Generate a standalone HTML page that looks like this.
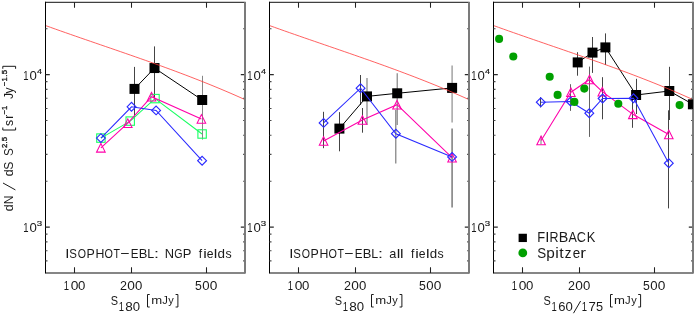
<!DOCTYPE html>
<html><head><meta charset="utf-8"><title>Source counts</title>
<style>
html,body{margin:0;padding:0;background:#fff;}
body{width:700px;height:314px;overflow:hidden;}
svg{display:block;will-change:transform;}
text{font-family:"Liberation Sans",sans-serif;fill:#1a1a1a;font-kerning:none;white-space:pre;}
</style></head><body>
<svg width="700" height="314" viewBox="0 0 700 314">
<rect width="700" height="314" fill="#fff"/>
<path d="M134.50 66.90V118.70" stroke="#3a3a3a" stroke-width="0.95" fill="none"/>
<path d="M154.50 46.40V98.00" stroke="#3a3a3a" stroke-width="0.95" fill="none"/>
<path d="M202.50 75.80V139.60" stroke="#808080" stroke-width="0.95" fill="none"/>
<path d="M100.90 138.10 L130.20 121.10 L155.00 98.60 L202.10 134.00" stroke="#18ff62" stroke-width="1.05" fill="none"/>
<rect x="96.70" y="133.90" width="8.4" height="8.4" fill="none" stroke="#18ff62" stroke-width="1.1"/>
<rect x="126.00" y="116.90" width="8.4" height="8.4" fill="none" stroke="#18ff62" stroke-width="1.1"/>
<rect x="150.80" y="94.40" width="8.4" height="8.4" fill="none" stroke="#18ff62" stroke-width="1.1"/>
<rect x="197.90" y="129.80" width="8.4" height="8.4" fill="none" stroke="#18ff62" stroke-width="1.1"/>
<path d="M100.90 147.80 L127.80 123.10 L151.50 96.70 L201.40 118.90" stroke="#ff00aa" stroke-width="1.05" fill="none"/>
<path d="M96.60 152.10L100.90 143.50L105.20 152.10Z" fill="none" stroke="#ff00aa" stroke-width="1.05"/>
<path d="M123.50 127.40L127.80 118.80L132.10 127.40Z" fill="none" stroke="#ff00aa" stroke-width="1.05"/>
<path d="M147.20 101.00L151.50 92.40L155.80 101.00Z" fill="none" stroke="#ff00aa" stroke-width="1.05"/>
<path d="M197.10 123.20L201.40 114.60L205.70 123.20Z" fill="none" stroke="#ff00aa" stroke-width="1.05"/>
<path d="M100.90 138.10 L131.50 106.80 L156.10 110.40 L202.10 160.70" stroke="#2a2aff" stroke-width="1.05" fill="none"/>
<path d="M96.50 138.10L100.90 133.70L105.30 138.10L100.90 142.50Z" fill="none" stroke="#2a2aff" stroke-width="1.15"/>
<path d="M127.10 106.80L131.50 102.40L135.90 106.80L131.50 111.20Z" fill="none" stroke="#2a2aff" stroke-width="1.15"/>
<path d="M151.70 110.40L156.10 106.00L160.50 110.40L156.10 114.80Z" fill="none" stroke="#2a2aff" stroke-width="1.15"/>
<path d="M197.70 160.70L202.10 156.30L206.50 160.70L202.10 165.10Z" fill="none" stroke="#2a2aff" stroke-width="1.15"/>
<path d="M134.50 88.90 L154.50 68.05 L202.20 100.00" stroke="#000" stroke-width="1.0" fill="none"/>
<rect x="129.50" y="83.90" width="10" height="10" fill="#000"/>
<rect x="149.50" y="63.05" width="10" height="10" fill="#000"/>
<rect x="197.20" y="95.00" width="10" height="10" fill="#000"/>
<path d="M45.50 25.55 L50.49 27.34 L55.48 29.12 L60.46 30.88 L65.45 32.64 L70.44 34.38 L75.42 36.12 L80.41 37.85 L85.40 39.57 L90.39 41.29 L95.38 43.01 L100.36 44.72 L105.35 46.44 L110.34 48.15 L115.33 49.87 L120.31 51.59 L125.30 53.32 L130.29 55.05 L135.28 56.79 L140.26 58.54 L145.25 60.29 L150.24 62.06 L155.22 63.85 L160.21 65.64 L165.20 67.46 L170.19 69.29 L175.18 71.13 L180.16 73.00 L185.15 74.88 L190.14 76.79 L195.12 78.73 L200.11 80.68 L205.10 82.66 L210.09 84.67 L215.07 86.71 L220.06 88.78 L225.05 90.88 L230.04 93.01 L235.03 95.18 L240.01 97.38 L245.00 99.62" stroke="#ff3a3a" stroke-width="0.8" fill="none"/>
<path d="M339.50 112.10V151.30" stroke="#3a3a3a" stroke-width="0.95" fill="none"/>
<path d="M367.00 77.90V125.00" stroke="#777" stroke-width="1.1" fill="none"/>
<path d="M397.20 73.20V125.00" stroke="#777" stroke-width="1.1" fill="none"/>
<path d="M452.10 65.50V122.60" stroke="#999" stroke-width="1.35" fill="none"/>
<path d="M323.50 111.80V148.20" stroke="#3a3a3a" stroke-width="0.95" fill="none"/>
<path d="M360.50 75.00V105.00" stroke="#3a3a3a" stroke-width="0.95" fill="none"/>
<path d="M395.80 110.00V163.40" stroke="#707070" stroke-width="1.1" fill="none"/>
<path d="M452.10 128.40V207.50" stroke="#8a8a8a" stroke-width="1.7" fill="none"/>
<path d="M362.50 108.00V132.70" stroke="#3a3a3a" stroke-width="0.95" fill="none"/>
<path d="M339.40 128.60 L367.00 96.40 L397.20 93.30 L452.10 87.90" stroke="#000" stroke-width="1.0" fill="none"/>
<rect x="334.40" y="123.60" width="10" height="10" fill="#000"/>
<rect x="362.00" y="91.40" width="10" height="10" fill="#000"/>
<rect x="392.20" y="88.30" width="10" height="10" fill="#000"/>
<rect x="447.10" y="82.90" width="10" height="10" fill="#000"/>
<path d="M323.60 141.00 L362.40 120.00 L397.00 104.70 L452.10 157.70" stroke="#ff00aa" stroke-width="1.05" fill="none"/>
<path d="M319.30 145.30L323.60 136.70L327.90 145.30Z" fill="none" stroke="#ff00aa" stroke-width="1.05"/>
<path d="M358.10 124.30L362.40 115.70L366.70 124.30Z" fill="none" stroke="#ff00aa" stroke-width="1.05"/>
<path d="M392.70 109.00L397.00 100.40L401.30 109.00Z" fill="none" stroke="#ff00aa" stroke-width="1.05"/>
<path d="M447.80 162.00L452.10 153.40L456.40 162.00Z" fill="none" stroke="#ff00aa" stroke-width="1.05"/>
<path d="M323.60 122.90 L360.60 88.20 L395.90 133.70 L452.10 156.90" stroke="#2a2aff" stroke-width="1.05" fill="none"/>
<path d="M319.20 122.90L323.60 118.50L328.00 122.90L323.60 127.30Z" fill="none" stroke="#2a2aff" stroke-width="1.15"/>
<path d="M356.20 88.20L360.60 83.80L365.00 88.20L360.60 92.60Z" fill="none" stroke="#2a2aff" stroke-width="1.15"/>
<path d="M391.50 133.70L395.90 129.30L400.30 133.70L395.90 138.10Z" fill="none" stroke="#2a2aff" stroke-width="1.15"/>
<path d="M447.70 156.90L452.10 152.50L456.50 156.90L452.10 161.30Z" fill="none" stroke="#2a2aff" stroke-width="1.15"/>
<path d="M269.50 25.55 L274.49 27.34 L279.48 29.12 L284.46 30.88 L289.45 32.64 L294.44 34.38 L299.43 36.12 L304.41 37.85 L309.40 39.57 L314.39 41.29 L319.38 43.01 L324.36 44.72 L329.35 46.44 L334.34 48.15 L339.32 49.87 L344.31 51.59 L349.30 53.32 L354.29 55.05 L359.27 56.79 L364.26 58.54 L369.25 60.29 L374.24 62.06 L379.23 63.85 L384.21 65.64 L389.20 67.46 L394.19 69.29 L399.18 71.13 L404.16 73.00 L409.15 74.88 L414.14 76.79 L419.12 78.73 L424.11 80.68 L429.10 82.66 L434.09 84.67 L439.07 86.71 L444.06 88.78 L449.05 90.88 L454.04 93.01 L459.02 95.18 L464.01 97.38 L469.00 99.62" stroke="#ff3a3a" stroke-width="0.8" fill="none"/>
<path d="M577.50 52.20V75.70" stroke="#3a3a3a" stroke-width="0.95" fill="none"/>
<path d="M592.50 37.00V72.90" stroke="#3a3a3a" stroke-width="0.95" fill="none"/>
<path d="M605.50 33.40V65.00" stroke="#3a3a3a" stroke-width="0.95" fill="none"/>
<path d="M636.50 78.80V114.00" stroke="#3a3a3a" stroke-width="0.95" fill="none"/>
<path d="M669.50 66.80V120.00" stroke="#3a3a3a" stroke-width="0.95" fill="none"/>
<path d="M540.50 97.20V107.40" stroke="#3a3a3a" stroke-width="0.95" fill="none"/>
<path d="M570.50 84.20V110.90" stroke="#5a5a5a" stroke-width="0.95" fill="none"/>
<path d="M589.50 66.60V136.90" stroke="#5a5a5a" stroke-width="0.95" fill="none"/>
<path d="M602.50 77.20V119.30" stroke="#3a3a3a" stroke-width="0.95" fill="none"/>
<path d="M632.50 95.00V127.80" stroke="#3a3a3a" stroke-width="0.95" fill="none"/>
<path d="M668.50 110.30V208.40" stroke="#3a3a3a" stroke-width="0.95" fill="none"/>
<path d="M541.00 135.80V144.20" stroke="#999" stroke-width="1.3" fill="none"/>
<clipPath id="c3"><rect x="493.5" y="2.2" width="199.9" height="270.75"/></clipPath>
<g clip-path="url(#c3)">
<path d="M577.70 62.40 L592.50 52.60 L605.40 47.40 L636.10 95.00 L669.30 91.00 L692.90 104.30" stroke="#000" stroke-width="1.0" fill="none"/>
<rect x="572.70" y="57.40" width="10" height="10" fill="#000"/>
<rect x="587.50" y="47.60" width="10" height="10" fill="#000"/>
<rect x="600.40" y="42.40" width="10" height="10" fill="#000"/>
<rect x="631.10" y="90.00" width="10" height="10" fill="#000"/>
<rect x="664.30" y="86.00" width="10" height="10" fill="#000"/>
<rect x="687.90" y="99.30" width="10" height="10" fill="#000"/>
</g>
<path d="M541.10 140.50 L570.90 92.20 L589.50 79.50 L602.30 91.70 L632.90 114.30 L668.80 134.50" stroke="#ff00aa" stroke-width="1.05" fill="none"/>
<path d="M536.80 144.80L541.10 136.20L545.40 144.80Z" fill="none" stroke="#ff00aa" stroke-width="1.05"/>
<path d="M566.60 96.50L570.90 87.90L575.20 96.50Z" fill="none" stroke="#ff00aa" stroke-width="1.05"/>
<path d="M585.20 83.80L589.50 75.20L593.80 83.80Z" fill="none" stroke="#ff00aa" stroke-width="1.05"/>
<path d="M598.00 96.00L602.30 87.40L606.60 96.00Z" fill="none" stroke="#ff00aa" stroke-width="1.05"/>
<path d="M628.60 118.60L632.90 110.00L637.20 118.60Z" fill="none" stroke="#ff00aa" stroke-width="1.05"/>
<path d="M664.50 138.80L668.80 130.20L673.10 138.80Z" fill="none" stroke="#ff00aa" stroke-width="1.05"/>
<path d="M540.80 102.20 L570.60 101.50 L589.30 113.20 L602.60 98.50 L633.50 98.30 L668.80 163.20" stroke="#2a2aff" stroke-width="1.05" fill="none"/>
<path d="M536.40 102.20L540.80 97.80L545.20 102.20L540.80 106.60Z" fill="none" stroke="#2a2aff" stroke-width="1.15"/>
<path d="M566.20 101.50L570.60 97.10L575.00 101.50L570.60 105.90Z" fill="none" stroke="#2a2aff" stroke-width="1.15"/>
<path d="M584.90 113.20L589.30 108.80L593.70 113.20L589.30 117.60Z" fill="none" stroke="#2a2aff" stroke-width="1.15"/>
<path d="M598.20 98.50L602.60 94.10L607.00 98.50L602.60 102.90Z" fill="none" stroke="#2a2aff" stroke-width="1.15"/>
<path d="M629.10 98.30L633.50 93.90L637.90 98.30L633.50 102.70Z" fill="none" stroke="#2a2aff" stroke-width="1.15"/>
<path d="M664.40 163.20L668.80 158.80L673.20 163.20L668.80 167.60Z" fill="none" stroke="#2a2aff" stroke-width="1.15"/>
<circle cx="499.10" cy="38.90" r="4.05" fill="#00a000"/>
<circle cx="513.30" cy="56.50" r="4.05" fill="#00a000"/>
<circle cx="549.70" cy="76.80" r="4.05" fill="#00a000"/>
<circle cx="557.60" cy="94.90" r="4.05" fill="#00a000"/>
<circle cx="584.30" cy="88.60" r="4.05" fill="#00a000"/>
<circle cx="574.40" cy="101.90" r="4.05" fill="#00a000"/>
<circle cx="618.30" cy="103.80" r="4.05" fill="#00a000"/>
<circle cx="679.60" cy="105.10" r="4.05" fill="#00a000"/>
<path d="M493.50 25.55 L498.49 27.34 L503.48 29.12 L508.46 30.88 L513.45 32.64 L518.44 34.38 L523.42 36.12 L528.41 37.85 L533.40 39.57 L538.39 41.29 L543.38 43.01 L548.36 44.72 L553.35 46.44 L558.34 48.15 L563.33 49.87 L568.31 51.59 L573.30 53.32 L578.29 55.05 L583.27 56.79 L588.26 58.54 L593.25 60.29 L598.24 62.06 L603.23 63.85 L608.21 65.64 L613.20 67.46 L618.19 69.29 L623.17 71.13 L628.16 73.00 L633.15 74.88 L638.14 76.79 L643.12 78.73 L648.11 80.68 L653.10 82.66 L658.09 84.67 L663.08 86.71 L668.06 88.78 L673.05 90.88 L678.04 93.01 L683.02 95.18 L688.01 97.38 L693.00 99.62" stroke="#ff3a3a" stroke-width="0.8" fill="none"/>
<path d="M45.50 2.35H245.60" fill="none" stroke="#404040" stroke-width="1.2"/>
<path d="M45.50 273.05H245.50" fill="none" stroke="#868686" stroke-width="1.95"/>
<path d="M245.00 2.0V273.34999999999997" fill="none" stroke="#787878" stroke-width="1.95"/>
<path d="M45.50 1.7000000000000002V273.45" fill="none" stroke="#000" stroke-width="1.0"/>
<path d="M74.50 2.2v5.6M74.50 272.95v-5.6" stroke="#222" stroke-width="1.05" fill="none"/>
<path d="M131.50 2.2v5.6M131.50 272.95v-5.6" stroke="#222" stroke-width="1.05" fill="none"/>
<path d="M206.50 2.2v5.6M206.50 272.95v-5.6" stroke="#222" stroke-width="1.05" fill="none"/>
<path d="M45.50 260.92h2.0M244.10 260.92h-1.0" stroke="#4a4a4a" stroke-width="1.1" fill="none"/>
<path d="M45.50 250.71h2.0M244.10 250.71h-1.0" stroke="#4a4a4a" stroke-width="1.1" fill="none"/>
<path d="M45.50 241.87h2.0M244.10 241.87h-1.0" stroke="#4a4a4a" stroke-width="1.1" fill="none"/>
<path d="M45.50 234.08h2.0M244.10 234.08h-1.0" stroke="#4a4a4a" stroke-width="1.1" fill="none"/>
<path d="M45.50 227.10h4.3M244.10 227.10h-3.3" stroke="#2a2a2a" stroke-width="1.1" fill="none"/>
<path d="M45.50 181.21h2.0M244.10 181.21h-1.0" stroke="#4a4a4a" stroke-width="1.1" fill="none"/>
<path d="M45.50 154.36h2.0M244.10 154.36h-1.0" stroke="#4a4a4a" stroke-width="1.1" fill="none"/>
<path d="M45.50 135.32h2.0M244.10 135.32h-1.0" stroke="#4a4a4a" stroke-width="1.1" fill="none"/>
<path d="M45.50 120.54h2.0M244.10 120.54h-1.0" stroke="#4a4a4a" stroke-width="1.1" fill="none"/>
<path d="M45.50 108.47h2.0M244.10 108.47h-1.0" stroke="#4a4a4a" stroke-width="1.1" fill="none"/>
<path d="M45.50 98.26h2.0M244.10 98.26h-1.0" stroke="#4a4a4a" stroke-width="1.1" fill="none"/>
<path d="M45.50 89.42h2.0M244.10 89.42h-1.0" stroke="#4a4a4a" stroke-width="1.1" fill="none"/>
<path d="M45.50 81.63h2.0M244.10 81.63h-1.0" stroke="#4a4a4a" stroke-width="1.1" fill="none"/>
<path d="M45.50 74.65h4.3M244.10 74.65h-3.3" stroke="#2a2a2a" stroke-width="1.1" fill="none"/>
<path d="M45.50 28.76h2.0M244.10 28.76h-1.0" stroke="#4a4a4a" stroke-width="1.1" fill="none"/>
<path d="M269.50 2.35H469.60" fill="none" stroke="#404040" stroke-width="1.2"/>
<path d="M269.50 273.05H469.50" fill="none" stroke="#868686" stroke-width="1.95"/>
<path d="M469.00 2.0V273.34999999999997" fill="none" stroke="#787878" stroke-width="1.95"/>
<path d="M269.50 1.7000000000000002V273.45" fill="none" stroke="#000" stroke-width="1.0"/>
<path d="M298.50 2.2v5.6M298.50 272.95v-5.6" stroke="#222" stroke-width="1.05" fill="none"/>
<path d="M355.50 2.2v5.6M355.50 272.95v-5.6" stroke="#222" stroke-width="1.05" fill="none"/>
<path d="M430.50 2.2v5.6M430.50 272.95v-5.6" stroke="#222" stroke-width="1.05" fill="none"/>
<path d="M269.50 260.92h2.0M468.10 260.92h-1.0" stroke="#4a4a4a" stroke-width="1.1" fill="none"/>
<path d="M269.50 250.71h2.0M468.10 250.71h-1.0" stroke="#4a4a4a" stroke-width="1.1" fill="none"/>
<path d="M269.50 241.87h2.0M468.10 241.87h-1.0" stroke="#4a4a4a" stroke-width="1.1" fill="none"/>
<path d="M269.50 234.08h2.0M468.10 234.08h-1.0" stroke="#4a4a4a" stroke-width="1.1" fill="none"/>
<path d="M269.50 227.10h4.3M468.10 227.10h-3.3" stroke="#2a2a2a" stroke-width="1.1" fill="none"/>
<path d="M269.50 181.21h2.0M468.10 181.21h-1.0" stroke="#4a4a4a" stroke-width="1.1" fill="none"/>
<path d="M269.50 154.36h2.0M468.10 154.36h-1.0" stroke="#4a4a4a" stroke-width="1.1" fill="none"/>
<path d="M269.50 135.32h2.0M468.10 135.32h-1.0" stroke="#4a4a4a" stroke-width="1.1" fill="none"/>
<path d="M269.50 120.54h2.0M468.10 120.54h-1.0" stroke="#4a4a4a" stroke-width="1.1" fill="none"/>
<path d="M269.50 108.47h2.0M468.10 108.47h-1.0" stroke="#4a4a4a" stroke-width="1.1" fill="none"/>
<path d="M269.50 98.26h2.0M468.10 98.26h-1.0" stroke="#4a4a4a" stroke-width="1.1" fill="none"/>
<path d="M269.50 89.42h2.0M468.10 89.42h-1.0" stroke="#4a4a4a" stroke-width="1.1" fill="none"/>
<path d="M269.50 81.63h2.0M468.10 81.63h-1.0" stroke="#4a4a4a" stroke-width="1.1" fill="none"/>
<path d="M269.50 74.65h4.3M468.10 74.65h-3.3" stroke="#2a2a2a" stroke-width="1.1" fill="none"/>
<path d="M269.50 28.76h2.0M468.10 28.76h-1.0" stroke="#4a4a4a" stroke-width="1.1" fill="none"/>
<path d="M493.50 2.35H693.60" fill="none" stroke="#404040" stroke-width="1.2"/>
<path d="M493.50 273.05H693.50" fill="none" stroke="#868686" stroke-width="1.95"/>
<path d="M693.00 2.0V273.34999999999997" fill="none" stroke="#787878" stroke-width="1.95"/>
<path d="M493.50 1.7000000000000002V273.45" fill="none" stroke="#000" stroke-width="1.0"/>
<path d="M522.50 2.2v5.6M522.50 272.95v-5.6" stroke="#222" stroke-width="1.05" fill="none"/>
<path d="M579.50 2.2v5.6M579.50 272.95v-5.6" stroke="#222" stroke-width="1.05" fill="none"/>
<path d="M654.50 2.2v5.6M654.50 272.95v-5.6" stroke="#222" stroke-width="1.05" fill="none"/>
<path d="M493.50 260.92h2.0M692.10 260.92h-1.0" stroke="#4a4a4a" stroke-width="1.1" fill="none"/>
<path d="M493.50 250.71h2.0M692.10 250.71h-1.0" stroke="#4a4a4a" stroke-width="1.1" fill="none"/>
<path d="M493.50 241.87h2.0M692.10 241.87h-1.0" stroke="#4a4a4a" stroke-width="1.1" fill="none"/>
<path d="M493.50 234.08h2.0M692.10 234.08h-1.0" stroke="#4a4a4a" stroke-width="1.1" fill="none"/>
<path d="M493.50 227.10h4.3M692.10 227.10h-3.3" stroke="#2a2a2a" stroke-width="1.1" fill="none"/>
<path d="M493.50 181.21h2.0M692.10 181.21h-1.0" stroke="#4a4a4a" stroke-width="1.1" fill="none"/>
<path d="M493.50 154.36h2.0M692.10 154.36h-1.0" stroke="#4a4a4a" stroke-width="1.1" fill="none"/>
<path d="M493.50 135.32h2.0M692.10 135.32h-1.0" stroke="#4a4a4a" stroke-width="1.1" fill="none"/>
<path d="M493.50 120.54h2.0M692.10 120.54h-1.0" stroke="#4a4a4a" stroke-width="1.1" fill="none"/>
<path d="M493.50 108.47h2.0M692.10 108.47h-1.0" stroke="#4a4a4a" stroke-width="1.1" fill="none"/>
<path d="M493.50 98.26h2.0M692.10 98.26h-1.0" stroke="#4a4a4a" stroke-width="1.1" fill="none"/>
<path d="M493.50 89.42h2.0M692.10 89.42h-1.0" stroke="#4a4a4a" stroke-width="1.1" fill="none"/>
<path d="M493.50 81.63h2.0M692.10 81.63h-1.0" stroke="#4a4a4a" stroke-width="1.1" fill="none"/>
<path d="M493.50 74.65h4.3M692.10 74.65h-3.3" stroke="#2a2a2a" stroke-width="1.1" fill="none"/>
<path d="M493.50 28.76h2.0M692.10 28.76h-1.0" stroke="#4a4a4a" stroke-width="1.1" fill="none"/>
<rect x="691.4" y="99.4" width="1.55" height="9.7" fill="#000"/>
<text transform="translate(64.35,290.00) scale(0.780,1)" x="-0.93" y="0" font-size="12.2">1</text>
<text transform="translate(71.20,290.00) scale(1.132,1)" x="-0.48" y="0" font-size="12.2">0</text>
<text transform="translate(78.60,290.00) scale(1.080,1)" x="-0.48" y="0" font-size="12.2">0</text>
<text transform="translate(120.70,290.00) scale(1.026,1)" x="-0.61" y="0" font-size="12.2">2</text>
<text transform="translate(127.90,290.00) scale(1.123,1)" x="-0.48" y="0" font-size="12.2">0</text>
<text transform="translate(135.60,290.00) scale(1.080,1)" x="-0.48" y="0" font-size="12.2">0</text>
<text transform="translate(195.60,290.00) scale(1.003,1)" x="-0.49" y="0" font-size="12.2">5</text>
<text transform="translate(202.80,290.00) scale(1.080,1)" x="-0.48" y="0" font-size="12.2">0</text>
<text transform="translate(210.25,290.00) scale(1.123,1)" x="-0.48" y="0" font-size="12.2">0</text>
<text transform="translate(23.85,79.55) scale(0.780,1)" x="-0.93" y="0" font-size="12.2">1</text>
<text transform="translate(29.90,79.55) scale(1.080,1)" x="-0.48" y="0" font-size="12.2">0</text>
<text transform="translate(37.10,73.65) scale(1.156,1)" x="-0.18" y="0" font-size="7.9" stroke="#1a1a1a" stroke-width="0.18">4</text>
<text transform="translate(23.85,232.00) scale(0.780,1)" x="-0.93" y="0" font-size="12.2">1</text>
<text transform="translate(29.90,232.00) scale(1.080,1)" x="-0.48" y="0" font-size="12.2">0</text>
<text transform="translate(37.10,226.10) scale(1.228,1)" x="-0.30" y="0" font-size="7.9" stroke="#1a1a1a" stroke-width="0.18">3</text>
<text transform="translate(288.35,290.00) scale(0.780,1)" x="-0.93" y="0" font-size="12.2">1</text>
<text transform="translate(295.20,290.00) scale(1.132,1)" x="-0.48" y="0" font-size="12.2">0</text>
<text transform="translate(302.60,290.00) scale(1.080,1)" x="-0.48" y="0" font-size="12.2">0</text>
<text transform="translate(344.70,290.00) scale(1.026,1)" x="-0.61" y="0" font-size="12.2">2</text>
<text transform="translate(351.90,290.00) scale(1.123,1)" x="-0.48" y="0" font-size="12.2">0</text>
<text transform="translate(359.60,290.00) scale(1.080,1)" x="-0.48" y="0" font-size="12.2">0</text>
<text transform="translate(419.60,290.00) scale(1.003,1)" x="-0.49" y="0" font-size="12.2">5</text>
<text transform="translate(426.80,290.00) scale(1.080,1)" x="-0.48" y="0" font-size="12.2">0</text>
<text transform="translate(434.25,290.00) scale(1.123,1)" x="-0.48" y="0" font-size="12.2">0</text>
<text transform="translate(247.85,79.55) scale(0.780,1)" x="-0.93" y="0" font-size="12.2">1</text>
<text transform="translate(253.90,79.55) scale(1.080,1)" x="-0.48" y="0" font-size="12.2">0</text>
<text transform="translate(261.10,73.65) scale(1.156,1)" x="-0.18" y="0" font-size="7.9" stroke="#1a1a1a" stroke-width="0.18">4</text>
<text transform="translate(247.85,232.00) scale(0.780,1)" x="-0.93" y="0" font-size="12.2">1</text>
<text transform="translate(253.90,232.00) scale(1.080,1)" x="-0.48" y="0" font-size="12.2">0</text>
<text transform="translate(261.10,226.10) scale(1.228,1)" x="-0.30" y="0" font-size="7.9" stroke="#1a1a1a" stroke-width="0.18">3</text>
<text transform="translate(512.35,290.00) scale(0.780,1)" x="-0.93" y="0" font-size="12.2">1</text>
<text transform="translate(519.20,290.00) scale(1.132,1)" x="-0.48" y="0" font-size="12.2">0</text>
<text transform="translate(526.60,290.00) scale(1.080,1)" x="-0.48" y="0" font-size="12.2">0</text>
<text transform="translate(568.70,290.00) scale(1.026,1)" x="-0.61" y="0" font-size="12.2">2</text>
<text transform="translate(575.90,290.00) scale(1.123,1)" x="-0.48" y="0" font-size="12.2">0</text>
<text transform="translate(583.60,290.00) scale(1.080,1)" x="-0.48" y="0" font-size="12.2">0</text>
<text transform="translate(643.60,290.00) scale(1.003,1)" x="-0.49" y="0" font-size="12.2">5</text>
<text transform="translate(650.80,290.00) scale(1.080,1)" x="-0.48" y="0" font-size="12.2">0</text>
<text transform="translate(658.25,290.00) scale(1.123,1)" x="-0.48" y="0" font-size="12.2">0</text>
<text transform="translate(471.85,79.55) scale(0.780,1)" x="-0.93" y="0" font-size="12.2">1</text>
<text transform="translate(477.90,79.55) scale(1.080,1)" x="-0.48" y="0" font-size="12.2">0</text>
<text transform="translate(485.10,73.65) scale(1.156,1)" x="-0.18" y="0" font-size="7.9" stroke="#1a1a1a" stroke-width="0.18">4</text>
<text transform="translate(471.85,232.00) scale(0.780,1)" x="-0.93" y="0" font-size="12.2">1</text>
<text transform="translate(477.90,232.00) scale(1.080,1)" x="-0.48" y="0" font-size="12.2">0</text>
<text transform="translate(485.10,226.10) scale(1.228,1)" x="-0.30" y="0" font-size="7.9" stroke="#1a1a1a" stroke-width="0.18">3</text>
<text transform="translate(66.60,257.90) scale(1.104,1)" x="-1.26" y="0" font-size="13.6">I</text>
<text transform="translate(69.70,257.90) scale(0.843,1)" x="-0.62" y="0" font-size="13.6">S</text>
<text transform="translate(78.28,257.90) scale(0.780,1)" x="-0.64" y="0" font-size="13.6">O</text>
<text transform="translate(87.50,257.90) scale(0.912,1)" x="-1.12" y="0" font-size="13.6">P</text>
<text transform="translate(96.40,257.90) scale(0.908,1)" x="-1.12" y="0" font-size="13.6">H</text>
<text transform="translate(104.90,257.90) scale(0.797,1)" x="-0.64" y="0" font-size="13.6">O</text>
<text transform="translate(113.63,257.90) scale(0.780,1)" x="-0.31" y="0" font-size="13.6">T</text>
<text transform="translate(121.20,257.90) scale(1.165,1)" x="-0.67" y="0" font-size="13.6">−</text>
<text transform="translate(131.80,257.90) scale(0.855,1)" x="-1.12" y="0" font-size="13.6">E</text>
<text transform="translate(139.70,257.90) scale(0.953,1)" x="-1.12" y="0" font-size="13.6">B</text>
<text transform="translate(148.30,257.90) scale(0.917,1)" x="-1.12" y="0" font-size="13.6">L</text>
<text transform="translate(155.50,257.90) scale(1.313,1)" x="-1.24" y="0" font-size="13.6">:</text>
<text transform="translate(290.60,257.90) scale(1.104,1)" x="-1.26" y="0" font-size="13.6">I</text>
<text transform="translate(293.70,257.90) scale(0.843,1)" x="-0.62" y="0" font-size="13.6">S</text>
<text transform="translate(302.28,257.90) scale(0.780,1)" x="-0.64" y="0" font-size="13.6">O</text>
<text transform="translate(311.50,257.90) scale(0.912,1)" x="-1.12" y="0" font-size="13.6">P</text>
<text transform="translate(320.40,257.90) scale(0.908,1)" x="-1.12" y="0" font-size="13.6">H</text>
<text transform="translate(328.90,257.90) scale(0.797,1)" x="-0.64" y="0" font-size="13.6">O</text>
<text transform="translate(337.63,257.90) scale(0.780,1)" x="-0.31" y="0" font-size="13.6">T</text>
<text transform="translate(345.20,257.90) scale(1.165,1)" x="-0.67" y="0" font-size="13.6">−</text>
<text transform="translate(355.80,257.90) scale(0.855,1)" x="-1.12" y="0" font-size="13.6">E</text>
<text transform="translate(363.70,257.90) scale(0.953,1)" x="-1.12" y="0" font-size="13.6">B</text>
<text transform="translate(372.30,257.90) scale(0.917,1)" x="-1.12" y="0" font-size="13.6">L</text>
<text transform="translate(379.50,257.90) scale(1.313,1)" x="-1.24" y="0" font-size="13.6">:</text>
<text transform="translate(165.80,257.90) scale(0.948,1)" x="-1.12" y="0" font-size="13.6">N</text>
<text transform="translate(174.84,257.90) scale(0.780,1)" x="-0.68" y="0" font-size="13.6">G</text>
<text transform="translate(183.70,257.90) scale(0.953,1)" x="-1.12" y="0" font-size="13.6">P</text>
<text transform="translate(198.90,257.90) scale(0.887,1)" x="-0.19" y="0" font-size="13.6">f</text>
<text transform="translate(204.20,257.90) scale(1.171,1)" x="-0.91" y="0" font-size="13.6">i</text>
<text transform="translate(207.20,257.90) scale(0.893,1)" x="-0.58" y="0" font-size="13.6">e</text>
<text transform="translate(214.90,257.90) scale(1.171,1)" x="-0.92" y="0" font-size="13.6">l</text>
<text transform="translate(218.05,257.90) scale(0.989,1)" x="-0.57" y="0" font-size="13.6">d</text>
<text transform="translate(225.80,257.90) scale(0.911,1)" x="-0.38" y="0" font-size="13.6">s</text>
<text transform="translate(389.75,257.90) scale(0.938,1)" x="-0.58" y="0" font-size="13.6">a</text>
<text transform="translate(397.90,257.90) scale(1.171,1)" x="-0.92" y="0" font-size="13.6">l</text>
<text transform="translate(401.20,257.90) scale(1.171,1)" x="-0.92" y="0" font-size="13.6">l</text>
<text transform="translate(411.10,257.90) scale(0.887,1)" x="-0.19" y="0" font-size="13.6">f</text>
<text transform="translate(416.20,257.90) scale(1.171,1)" x="-0.91" y="0" font-size="13.6">i</text>
<text transform="translate(419.30,257.90) scale(0.893,1)" x="-0.58" y="0" font-size="13.6">e</text>
<text transform="translate(427.00,257.90) scale(1.171,1)" x="-0.92" y="0" font-size="13.6">l</text>
<text transform="translate(430.20,257.90) scale(0.981,1)" x="-0.57" y="0" font-size="13.6">d</text>
<text transform="translate(437.90,257.90) scale(0.911,1)" x="-0.38" y="0" font-size="13.6">s</text>
<rect x="518.60" y="233.75" width="8.3" height="8.3" fill="#000"/>
<circle cx="522.80" cy="252.90" r="4.4" fill="#00a000"/>
<text transform="translate(538.40,242.00) scale(0.908,1)" x="-1.16" y="0" font-size="14.2">F</text>
<text transform="translate(546.60,242.00) scale(1.057,1)" x="-1.31" y="0" font-size="14.2">I</text>
<text transform="translate(550.50,242.00) scale(0.878,1)" x="-1.16" y="0" font-size="14.2">R</text>
<text transform="translate(559.90,242.00) scale(1.006,1)" x="-1.16" y="0" font-size="14.2">B</text>
<text transform="translate(568.60,242.00) scale(0.881,1)" x="-0.03" y="0" font-size="14.2">A</text>
<text transform="translate(577.50,242.00) scale(0.890,1)" x="-0.72" y="0" font-size="14.2">C</text>
<text transform="translate(587.80,242.00) scale(0.908,1)" x="-1.16" y="0" font-size="14.2">K</text>
<text transform="translate(537.90,257.80) scale(0.916,1)" x="-0.66" y="0" font-size="14.6">S</text>
<text transform="translate(547.30,257.80) scale(1.051,1)" x="-0.94" y="0" font-size="14.6">p</text>
<text transform="translate(556.20,257.80) scale(1.091,1)" x="-0.98" y="0" font-size="14.6">i</text>
<text transform="translate(559.60,257.80) scale(1.086,1)" x="-0.22" y="0" font-size="14.6">t</text>
<text transform="translate(565.40,257.80) scale(0.920,1)" x="-0.59" y="0" font-size="14.6">z</text>
<text transform="translate(573.20,257.80) scale(0.920,1)" x="-0.62" y="0" font-size="14.6">e</text>
<text transform="translate(581.50,257.80) scale(1.178,1)" x="-0.97" y="0" font-size="14.6">r</text>
<text transform="translate(152.00,304.10) scale(1.132,1)" x="-0.77" y="0" font-size="11.6">m</text>
<text transform="translate(162.30,304.10) scale(0.967,1)" x="-0.18" y="0" font-size="11.6">J</text>
<text transform="translate(168.35,304.10) scale(0.948,1)" x="-0.03" y="0" font-size="11.6">y</text>
<text transform="translate(376.00,304.10) scale(1.132,1)" x="-0.77" y="0" font-size="11.6">m</text>
<text transform="translate(386.30,304.10) scale(0.967,1)" x="-0.18" y="0" font-size="11.6">J</text>
<text transform="translate(392.35,304.10) scale(0.948,1)" x="-0.03" y="0" font-size="11.6">y</text>
<text transform="translate(614.95,304.10) scale(1.132,1)" x="-0.77" y="0" font-size="11.6">m</text>
<text transform="translate(625.25,304.10) scale(0.967,1)" x="-0.18" y="0" font-size="11.6">J</text>
<text transform="translate(631.30,304.10) scale(0.948,1)" x="-0.03" y="0" font-size="11.6">y</text>
<text transform="translate(111.15,304.60) scale(0.855,1)" x="-0.58" y="0" font-size="12.8">S</text>
<text transform="translate(119.35,310.60) scale(0.780,1)" x="-0.93" y="0" font-size="12.2">1</text>
<text transform="translate(125.75,310.60) scale(1.109,1)" x="-0.53" y="0" font-size="12.2">8</text>
<text transform="translate(133.20,310.60) scale(1.080,1)" x="-0.48" y="0" font-size="12.2">0</text>
<text transform="translate(335.15,304.60) scale(0.855,1)" x="-0.58" y="0" font-size="12.8">S</text>
<text transform="translate(343.35,310.60) scale(0.780,1)" x="-0.93" y="0" font-size="12.2">1</text>
<text transform="translate(349.75,310.60) scale(1.109,1)" x="-0.53" y="0" font-size="12.2">8</text>
<text transform="translate(357.20,310.60) scale(1.080,1)" x="-0.48" y="0" font-size="12.2">0</text>
<text transform="translate(544.00,304.60) scale(0.855,1)" x="-0.58" y="0" font-size="12.8">S</text>
<text transform="translate(552.25,310.60) scale(0.780,1)" x="-0.93" y="0" font-size="12.2">1</text>
<text transform="translate(558.90,310.60) scale(1.066,1)" x="-0.62" y="0" font-size="12.2">6</text>
<text transform="translate(566.10,310.60) scale(1.080,1)" x="-0.48" y="0" font-size="12.2">0</text>
<text transform="translate(582.55,310.60) scale(0.780,1)" x="-0.93" y="0" font-size="12.2">1</text>
<text transform="translate(589.20,310.60) scale(1.082,1)" x="-0.63" y="0" font-size="12.2">7</text>
<text transform="translate(596.60,310.60) scale(1.046,1)" x="-0.49" y="0" font-size="12.2">5</text>
<g transform="translate(13.0,218.5) rotate(-90)">
<text x="7.19" y="0.00" font-size="12.2" letter-spacing="0.212">dN</text>
<path d="M28.60 2.40L35.50 -10.00" stroke="#1a1a1a" stroke-width="1.0" fill="none"/>
<text x="42.29" y="0.00" font-size="12.2" letter-spacing="-0.250">dS</text>
<text transform="translate(62.90,0.00) scale(0.954,1)" x="-0.55" y="0" font-size="12.2">S</text>
<text x="70.61" y="-6.50" font-size="7.7" letter-spacing="0.053" stroke="#1a1a1a" stroke-width="0.35">2.5</text>
<path d="M91.00 -10.20H88.50V2.60H91.00" stroke="#1a1a1a" stroke-width="1.0" fill="none"/>
<text x="92.46" y="0.00" font-size="12.2" letter-spacing="1.179">sr</text>
<text x="103.92" y="-6.50" font-size="7.7" letter-spacing="0.177" stroke="#1a1a1a" stroke-width="0.35">−1</text>
<text x="119.51" y="0.00" font-size="12.2" letter-spacing="-0.586">Jy</text>
<text x="132.22" y="-6.50" font-size="7.7" letter-spacing="0.401" stroke="#1a1a1a" stroke-width="0.35">−1.5</text>
<path d="M149.70 -10.20H152.20V2.60H149.70" stroke="#1a1a1a" stroke-width="1.0" fill="none"/>
</g>
<path d="M149.70 294.50H147.50V307.00H149.70" stroke="#1a1a1a" stroke-width="1.0" fill="none"/>
<path d="M175.60 294.50H177.90V307.00H175.60" stroke="#1a1a1a" stroke-width="1.0" fill="none"/>
<path d="M373.70 294.50H371.50V307.00H373.70" stroke="#1a1a1a" stroke-width="1.0" fill="none"/>
<path d="M399.60 294.50H401.90V307.00H399.60" stroke="#1a1a1a" stroke-width="1.0" fill="none"/>
<path d="M612.70 294.50H610.50V307.00H612.70" stroke="#1a1a1a" stroke-width="1.0" fill="none"/>
<path d="M638.20 294.50H640.60V307.00H638.20" stroke="#1a1a1a" stroke-width="1.0" fill="none"/>
<path d="M573.50 313.20L580.60 301.00" stroke="#1a1a1a" stroke-width="1.0" fill="none"/>
</svg>
</body></html>
